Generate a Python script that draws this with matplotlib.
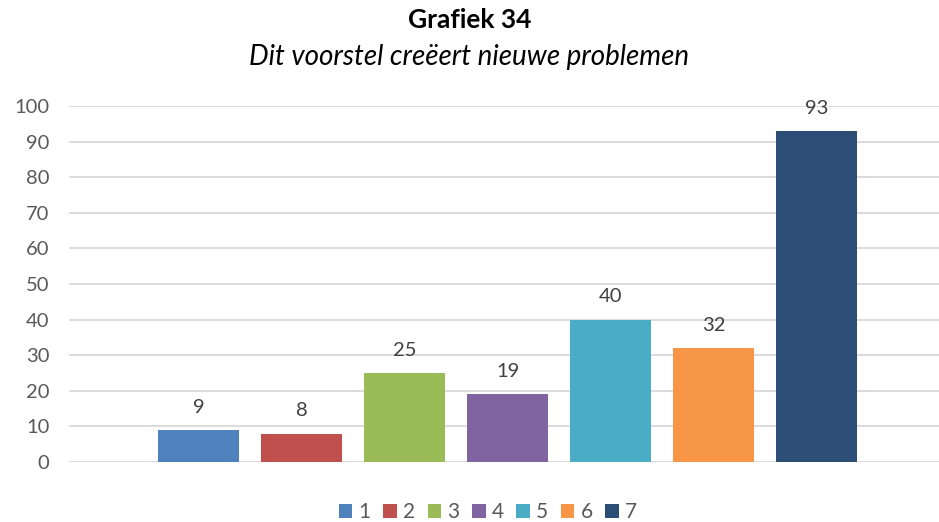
import numpy as np
import matplotlib.pyplot as plt

# answers 1..7 and their counts
labels = ['1', '2', '3', '4', '5', '6', '7']
counts = [9, 8, 25, 19, 40, 32, 93]
colors = ['#4F81BD', '#C0504D', '#9BBB59', '#8064A2', '#4BACC6', '#F79646', '#2C4D75']

plt.rcParams['font.family'] = ['Lato', 'DejaVu Sans']

fig = plt.figure(figsize=(9.39, 5.22), dpi=100)
ax = fig.add_axes([69 / 939, 60 / 522, 870 / 939, 356 / 522])

x = np.arange(len(counts))
for i in range(len(counts)):
    ax.bar(x[i], counts[i], width=0.786, color=colors[i], label=labels[i], zorder=3)
    ax.text(x[i], counts[i] + 4, str(counts[i]), ha='center', va='bottom',
            fontsize=14.5, color='#404040')

ax.set_xlim(-1.257, 7.189)
ax.set_ylim(0, 100)
ax.set_yticks(range(0, 101, 10))
ax.set_xticks([])
ax.grid(axis='y', color='#D9D9D9', linewidth=1.3, zorder=0)
for s in ax.spines.values():
    s.set_visible(False)
ax.tick_params(axis='y', length=0, pad=14, labelsize=14.5, labelcolor='#595959')

fig.text(0.5, 1 - 20 / 522, 'Grafiek 34', ha='center', va='center',
         fontsize=19, fontweight='bold', color='black')
fig.text(0.5, 1 - 57 / 522, 'Dit voorstel creëert nieuwe problemen', ha='center',
         va='center', fontsize=20, fontstyle='italic', color='black')

fig.legend(loc='center', bbox_to_anchor=(488 / 939, 1 - 512 / 522), ncol=7,
           frameon=False, fontsize=15, labelcolor='#595959', handlelength=0.65,
           handleheight=0.65, handletextpad=0.3, columnspacing=0.6)

fig.savefig('out.png', dpi=100)
